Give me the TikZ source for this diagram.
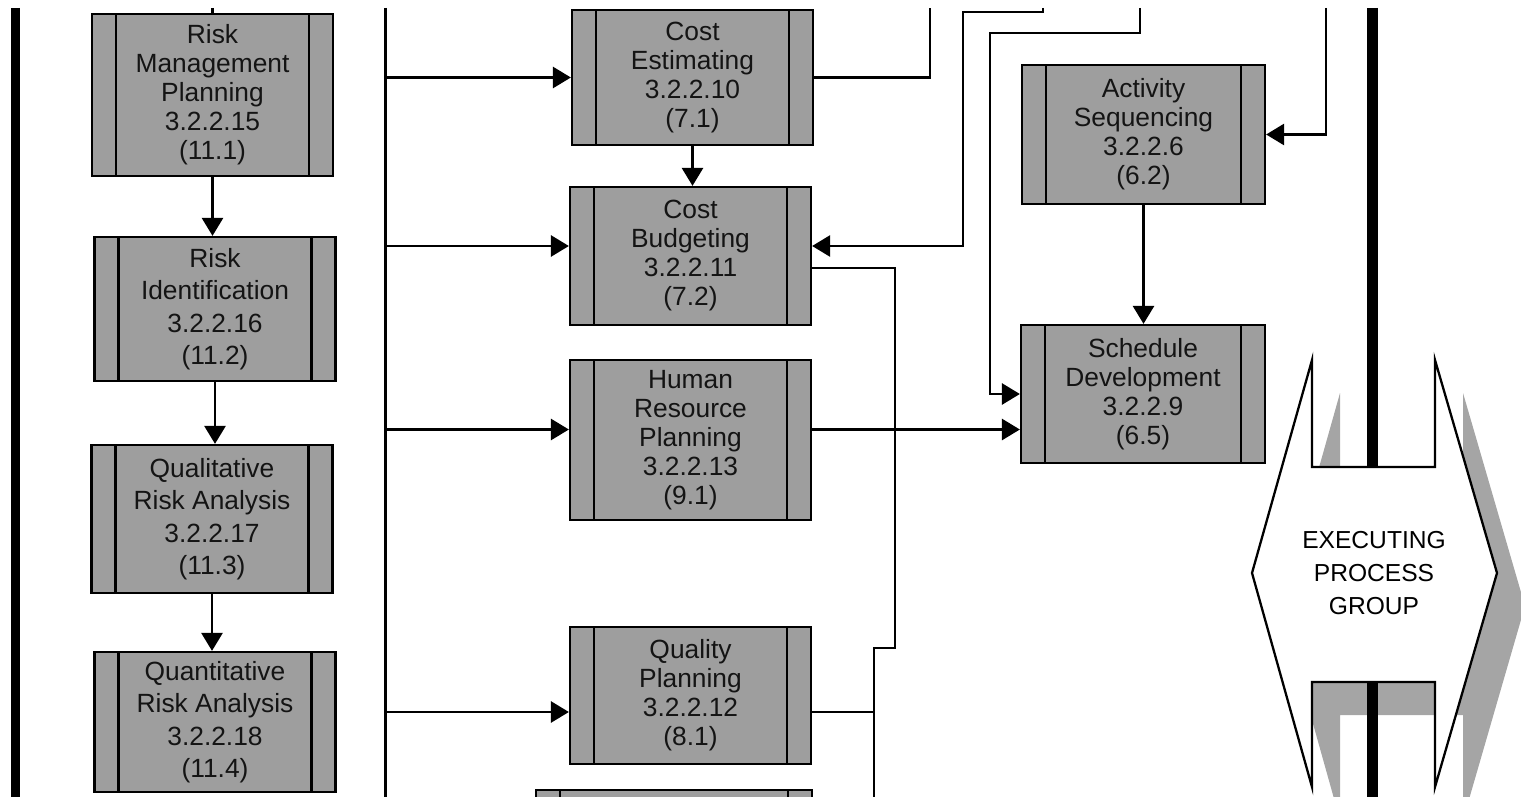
\documentclass[tikz,border=0pt]{standalone}
\usepackage{fontspec}
\setmainfont{Liberation Sans}
\usetikzlibrary{arrows.meta}
\definecolor{pgboxgray}{RGB}{158,158,158}
\definecolor{pgshade}{RGB}{165,165,165}
\definecolor{pgtext}{RGB}{20,20,20}

\begin{document}
\begin{tikzpicture}[
  x=0.02cm,y=-0.02cm,
  every node/.style={font=\fontsize{15}{16.5}\selectfont,text=pgtext},
  proc/.style={rectangle,draw,fill=pgboxgray,line width=1.3pt,minimum width=4.82cm,align=center,inner sep=0pt,
    path picture={
      \draw[line width=1.6pt] ([xshift=0.48cm]path picture bounding box.north west) -- ([xshift=0.48cm]path picture bounding box.south west);
      \draw[line width=1.6pt] ([xshift=-0.48cm]path picture bounding box.north east) -- ([xshift=-0.48cm]path picture bounding box.south east);}},
  loose/.style={font=\fontsize{15}{18.5}\selectfont},
  link/.style={line width=1.6pt},
  arr/.style={-{Triangle[length=0.36cm,width=0.42cm]},line width=1.6pt}
]
\useasboundingbox (0,0) rectangle (1521,797);
\clip (0,0) rectangle (1521,797);

% risk column
\node[proc,minimum height=3.24cm] (rmp) at (212.5,95) {Risk\\Management\\Planning\\3.2.2.15\\(11.1)};
\node[proc,loose,minimum height=2.88cm] (rid) at (215,309) {Risk\\Identification\\3.2.2.16\\(11.2)};
\node[proc,loose,minimum height=2.96cm] (qual) at (212,519) {Qualitative\\Risk Analysis\\3.2.2.17\\(11.3)};
\node[proc,loose,minimum height=2.8cm] (quant) at (215,722) {Quantitative\\Risk Analysis\\3.2.2.18\\(11.4)};

% cost / resource column
\node[proc,minimum height=2.7cm] (cest) at (692.5,77.5) {Cost\\Estimating\\3.2.2.10\\(7.1)};
\node[proc,minimum height=2.76cm] (cbud) at (690.5,256) {Cost\\Budgeting\\3.2.2.11\\(7.2)};
\node[proc,minimum height=3.2cm] (hrp) at (690.5,440) {Human\\Resource\\Planning\\3.2.2.13\\(9.1)};
\node[proc,minimum height=2.74cm] (qp) at (690.5,695.5) {Quality\\Planning\\3.2.2.12\\(8.1)};
\node[proc,minimum width=5.52cm,minimum height=2.8cm] (nextp) at (674,860) {};

% schedule column
\node[proc,minimum width=4.86cm,minimum height=2.78cm] (aseq) at (1143.5,134.5) {Activity\\Sequencing\\3.2.2.6\\(6.2)};
\node[proc,minimum width=4.88cm,minimum height=2.76cm] (sdev) at (1143,394) {Schedule\\Development\\3.2.2.9\\(6.5)};

% free ends
\coordinate (barLt) at (15.5,8);
\coordinate (barLb) at (15.5,797);
\coordinate (bustop) at (385.5,8);
\coordinate (busbot) at (385.5,797);
\coordinate (topR) at (212.5,8);
\coordinate (topA) at (930,8);
\coordinate (topB) at (1043,8);
\coordinate (topC) at (1140,8);
\coordinate (topD) at (1326,8);
\coordinate (botE) at (874,797);
\coordinate (cbudL) at ([yshift=0.2cm]cbud.west);
\coordinate (cbudR) at ([yshift=0.2cm]cbud.east);
\coordinate (cbudO) at ([yshift=-0.24cm]cbud.east);
\coordinate (hrpL) at ([yshift=0.21cm]hrp.west);
\coordinate (hrpR) at ([yshift=0.21cm]hrp.east);
\coordinate (qpL) at ([yshift=-0.33cm]qp.west);
\coordinate (qpR) at ([yshift=-0.33cm]qp.east);

% bars
\draw[line width=0.18cm] (barLt) -- (barLb);
\draw[line width=2pt] (bustop) -- (busbot);

% executing process group
\begin{scope}[shift={(28,33)}]
\fill[pgshade] (1312,360) -- (1312,467) -- (1435,467) -- (1435,360) -- (1497,573) -- (1435,787) -- (1435,682) -- (1312,682) -- (1312,787) -- (1252,573) -- cycle;
\end{scope}
\draw[line width=1.3pt,fill=white] (1312,360) -- (1312,467) -- (1435,467) -- (1435,360) -- (1497,573) -- (1435,787) -- (1435,682) -- (1312,682) -- (1312,787) -- (1252,573) -- cycle;
\draw[line width=0.22cm] (1372.5,8) -- (1372.5,467);
\draw[line width=0.22cm] (1372.5,682) -- (1372.5,797);
\node[font=\fontsize{14}{18.8}\selectfont,text=black,align=center] (exec) at (1374,573) {EXECUTING\\PROCESS\\GROUP};

% connectors
\draw[link] (topR) -- (rmp.north);
\draw[arr] (rmp.south) -- (rmp.south |- rid.north);
\draw[arr] (rid.south) -- (rid.south |- qual.north);
\draw[arr] (qual.south) -- (qual.south |- quant.north);

\draw[arr] (bustop |- cest.west) -- (cest.west);
\draw[arr] (bustop |- cbudL) -- (cbudL);
\draw[arr] (bustop |- hrpL) -- (hrpL);
\draw[arr] (bustop |- qpL) -- (qpL);
\draw[arr] (cest.south) -- (cest.south |- cbud.north);

\draw[link] (cest.east) -| (topA);
\draw[arr] (topB) -- ++(0,4) -- (963,12) |- (cbudR);
\draw[arr] (topC) -- ++(0,25) -- (990,33) |- (sdev.west);
\draw[arr] (topD) |- (aseq.east);
\draw[arr] (aseq.south) -- (aseq.south |- sdev.north);
\draw[arr] (hrpR) -- (hrpR -| sdev.west);
\draw[link] (cbudO) -| (895,648) -- (874,648) -- (botE);
\draw[link] (qpR) -- (qpR -| botE);
\end{tikzpicture}
\end{document}
